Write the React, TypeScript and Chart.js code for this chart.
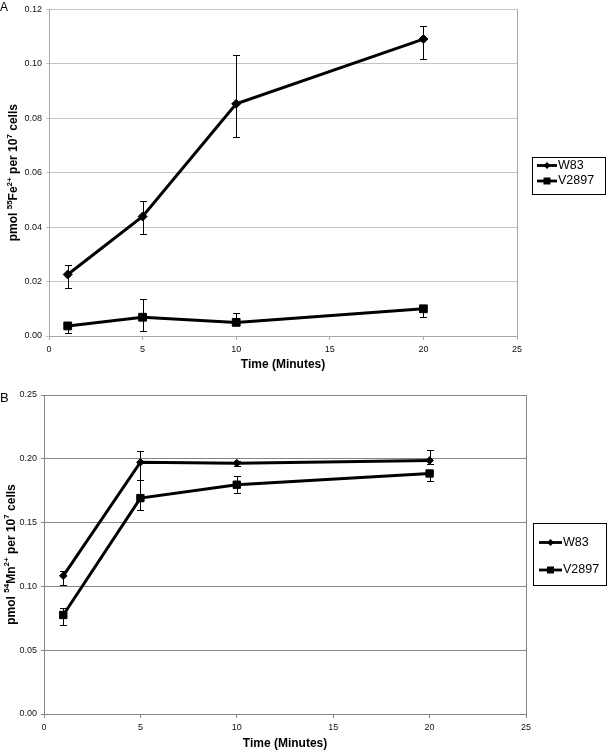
import React, { useEffect, useRef } from "react";
import { Chart, registerables } from "chart.js";

Chart.register(...registerables);

const FONT = "'Liberation Sans', Arial, Helvetica, sans-serif";

// ---- data ----
const times = [1, 5, 10, 20];
const xTicks = [0, 5, 10, 15, 20, 25];
const seriesNames = ["W83", "V2897"];

// Panel A: 55Fe2+ uptake
const feYTicks = [0, 0.02, 0.04, 0.06, 0.08, 0.1, 0.12];
const feW83 = [0.0226, 0.0439, 0.0853, 0.1091];
const feW83Plus = [0.0034, 0.0056, 0.0178, 0.0047];
const feW83Minus = [0.0049, 0.0066, 0.012, 0.0072];
const feV2897 = [0.0037, 0.0069, 0.005, 0.01];
const feV2897Plus = [0.001, 0.0068, 0.0033, 0.001];
const feV2897Minus = [0.0026, 0.005, 0.001, 0.003];

// Panel B: 54Mn2+ uptake
const mnYTicks = [0, 0.05, 0.1, 0.15, 0.2, 0.25];
const mnW83 = [0.1083, 0.1973, 0.1966, 0.1987];
const mnW83Plus = [0.0037, 0.009, 0.002, 0.008];
const mnW83Minus = [0.007, 0.014, 0.002, 0.003];
const mnV2897 = [0.0776, 0.1692, 0.1797, 0.1885];
const mnV2897Plus = [0.0052, 0.014, 0.0065, 0.002];
const mnV2897Minus = [0.008, 0.0092, 0.0068, 0.0057];

const feTitle = [
  { t: "pmol " },
  { t: "55", sup: true },
  { t: "Fe" },
  { t: "2+", sup: true },
  { t: " per 10" },
  { t: "7", sup: true },
  { t: " cells" },
];
const mnTitle = [
  { t: "pmol " },
  { t: "54", sup: true },
  { t: "Mn" },
  { t: "2+", sup: true },
  { t: " per 10" },
  { t: "7", sup: true },
  { t: " cells" },
];

const pts = (xs: number[], ys: number[]) => xs.map((x, i) => ({ x, y: ys[i] }));

function drawMarker(ctx: CanvasRenderingContext2D, style: string, x: number, y: number, r: number) {
  ctx.beginPath();
  if (style === "rectRot") {
    ctx.moveTo(x, y - r);
    ctx.lineTo(x + r, y);
    ctx.lineTo(x, y + r);
    ctx.lineTo(x - r, y);
    ctx.closePath();
  } else {
    ctx.rect(x - r, y - r, 2 * r, 2 * r);
  }
  ctx.fillStyle = "#000";
  ctx.fill();
}

const decorPlugin = {
  id: "decor",
  beforeDatasetsDraw(chart: any) {
    // error bars
    const { ctx } = chart;
    const xs = chart.scales.x;
    const ys = chart.scales.y;
    chart.data.datasets.forEach((ds: any) => {
      if (!ds.errPlus) return;
      ctx.save();
      ctx.strokeStyle = "#000";
      ctx.lineWidth = 1;
      ds.data.forEach((p: any, j: number) => {
        const x = Math.round(xs.getPixelForValue(p.x)) + 0.5;
        const yT = Math.round(ys.getPixelForValue(p.y + ds.errPlus[j])) + 0.5;
        const yB = Math.round(ys.getPixelForValue(p.y - ds.errMinus[j])) + 0.5;
        const c = 3.5;
        ctx.beginPath();
        ctx.moveTo(x, yT);
        ctx.lineTo(x, yB);
        ctx.moveTo(x - c, yT);
        ctx.lineTo(x + c, yT);
        ctx.moveTo(x - c, yB);
        ctx.lineTo(x + c, yB);
        ctx.stroke();
      });
      ctx.restore();
    });
  },
  afterDraw(chart: any, _args: any, opts: any) {
    const { ctx, chartArea } = chart;
    ctx.save();
    // right border of plot area
    ctx.strokeStyle = opts.borderColor;
    ctx.lineWidth = 1;
    ctx.beginPath();
    const rx = Math.round(chartArea.right) + 0.5;
    ctx.moveTo(rx, chartArea.top);
    ctx.lineTo(rx, chartArea.bottom);
    ctx.stroke();

    // panel letter
    ctx.fillStyle = "#000";
    ctx.font = `${opts.letterSize}px ${FONT}`;
    ctx.textBaseline = "alphabetic";
    ctx.textAlign = "left";
    ctx.fillText(opts.letter, opts.letterX, opts.letterY);

    // y title with superscripts
    const segs = opts.title;
    const big = `bold ${opts.titleSize}px ${FONT}`;
    const small = `bold ${opts.supSize}px ${FONT}`;
    let total = 0;
    segs.forEach((s: any) => {
      ctx.font = s.sup ? small : big;
      total += ctx.measureText(s.t).width;
    });
    ctx.translate(opts.titleX, (chartArea.top + chartArea.bottom) / 2);
    ctx.rotate(-Math.PI / 2);
    ctx.textBaseline = "middle";
    let cx = -total / 2;
    segs.forEach((s: any) => {
      ctx.font = s.sup ? small : big;
      ctx.fillText(s.t, cx, s.sup ? -opts.supShift : 0);
      cx += ctx.measureText(s.t).width;
    });
    ctx.setTransform(1, 0, 0, 1, 0, 0);

    // legend
    const L = opts.legend;
    ctx.strokeStyle = "#000";
    ctx.lineWidth = 1;
    ctx.strokeRect(L.left + 0.5, L.top + 0.5, L.width, L.height);
    chart.data.datasets.forEach((ds: any, i: number) => {
      const y = L.rowY[i];
      ctx.strokeStyle = "#000";
      ctx.lineWidth = 2.8;
      ctx.beginPath();
      ctx.moveTo(L.lineX, y);
      ctx.lineTo(L.lineX + L.lineLen, y);
      ctx.stroke();
      drawMarker(ctx, ds.pointStyle, L.lineX + L.lineLen / 2, y, L.markerR[i]);
      ctx.fillStyle = "#000";
      ctx.font = `${L.fontSize}px ${FONT}`;
      ctx.textBaseline = "middle";
      ctx.textAlign = "left";
      ctx.fillText(ds.label, L.textX, y);
    });
    ctx.restore();
  },
};

function makeConfig(p: any) {
  const mkDs = (label: string, vals: number[], plus: number[], minus: number[], style: string, r: number) => ({
    label,
    data: pts(times, vals),
    errPlus: plus,
    errMinus: minus,
    borderColor: "#000",
    backgroundColor: "#000",
    borderWidth: 3,
    pointStyle: style,
    pointRadius: r,
    pointBorderWidth: 1,
    pointBackgroundColor: "#000",
    pointBorderColor: "#000",
    tension: 0,
    clip: false,
  });
  return {
    type: "line",
    data: {
      datasets: [
        mkDs(seriesNames[0], p.w83, p.w83Plus, p.w83Minus, "rectRot", p.diamondR),
        mkDs(seriesNames[1], p.v2897, p.v2897Plus, p.v2897Minus, "rect", p.squareR),
      ],
    },
    options: {
      responsive: false,
      animation: false,
      events: [],
      layout: { padding: { top: p.padTop, right: p.padRight, left: 0, bottom: 0 } },
      plugins: {
        legend: { display: false },
        tooltip: { enabled: false },
        decor: {
          borderColor: p.axisColor,
          letter: p.letter,
          letterX: 0,
          letterY: p.letterY,
          letterSize: p.letterSize,
          title: p.title,
          titleX: p.titleX,
          titleSize: 12,
          supSize: 8,
          supShift: 4.5,
          legend: p.legend,
        },
      },
      scales: {
        x: {
          type: "linear",
          min: 0,
          max: 25,
          afterBuildTicks: (s: any) => {
            s.ticks = xTicks.map((v) => ({ value: v }));
          },
          afterFit: (s: any) => {
            s.height = p.xHeight;
          },
          ticks: {
            padding: 4,
            color: "#111",
            font: { size: 9, family: FONT },
            callback: (v: any) => String(v),
          },
          grid: { drawOnChartArea: false, drawTicks: true, tickLength: 4, color: p.axisColor },
          border: { color: p.axisColor, width: 1 },
          title: {
            display: true,
            text: "Time (Minutes)",
            color: "#000",
            font: { size: 12, weight: "bold", family: FONT },
            padding: { top: 0, bottom: 0 },
          },
        },
        y: {
          type: "linear",
          min: 0,
          max: p.yMax,
          afterBuildTicks: (s: any) => {
            s.ticks = p.yTicks.map((v: number) => ({ value: v }));
          },
          afterFit: (s: any) => {
            s.width = p.yWidth;
          },
          ticks: {
            padding: 4,
            color: "#111",
            font: { size: 9, family: FONT },
            callback: (v: any) => Number(v).toFixed(2),
          },
          grid: { color: p.gridColor, tickLength: 3, drawTicks: true },
          border: { color: p.axisColor, width: 1 },
          title: { display: false },
        },
      },
    },
    plugins: [decorPlugin],
  } as any;
}

const configA = () =>
  makeConfig({
    w83: feW83,
    w83Plus: feW83Plus,
    w83Minus: feW83Minus,
    v2897: feV2897,
    v2897Plus: feV2897Plus,
    v2897Minus: feV2897Minus,
    yTicks: feYTicks,
    yMax: 0.12,
    title: feTitle,
    titleX: 14,
    letter: "A",
    letterY: 11,
    letterSize: 12,
    padTop: 8,
    padRight: 91,
    yWidth: 49,
    xHeight: 36,
    diamondR: 4.5,
    squareR: 5.5,
    gridColor: "#c4c4c4",
    axisColor: "#a8a8a8",
    legend: {
      left: 532,
      top: 157,
      width: 73,
      height: 37,
      rowY: [165.5, 181],
      lineX: 537,
      lineLen: 20,
      textX: 558,
      fontSize: 12.5,
      markerR: [3.5, 3.5],
    },
  });

const configB = () =>
  makeConfig({
    w83: mnW83,
    w83Plus: mnW83Plus,
    w83Minus: mnW83Minus,
    v2897: mnV2897,
    v2897Plus: mnV2897Plus,
    v2897Minus: mnV2897Minus,
    yTicks: mnYTicks,
    yMax: 0.25,
    title: mnTitle,
    titleX: 11.5,
    letter: "B",
    letterY: 22,
    letterSize: 13,
    padTop: 15,
    padRight: 82,
    yWidth: 44,
    xHeight: 37,
    diamondR: 3.8,
    squareR: 5.2,
    gridColor: "#858585",
    axisColor: "#858585",
    legend: {
      left: 533,
      top: 143,
      width: 73,
      height: 62,
      rowY: [162.5, 190],
      lineX: 539,
      lineLen: 23,
      textX: 563,
      fontSize: 12.5,
      markerR: [3.5, 3.5],
    },
  });

export default function App() {
  const refA = useRef<HTMLCanvasElement>(null);
  const refB = useRef<HTMLCanvasElement>(null);
  useEffect(() => {
    const a = new Chart(refA.current as HTMLCanvasElement, configA());
    const b = new Chart(refB.current as HTMLCanvasElement, configB());
    return () => {
      a.destroy();
      b.destroy();
    };
  }, []);
  return (
    <div style={{ position: "absolute", left: 0, top: 0, width: 608, height: 751, background: "#fff" }}>
      <canvas ref={refA} width={608} height={372} style={{ position: "absolute", left: 0, top: 0 }} />
      <canvas ref={refB} width={608} height={371} style={{ position: "absolute", left: 0, top: 380 }} />
    </div>
  );
}
